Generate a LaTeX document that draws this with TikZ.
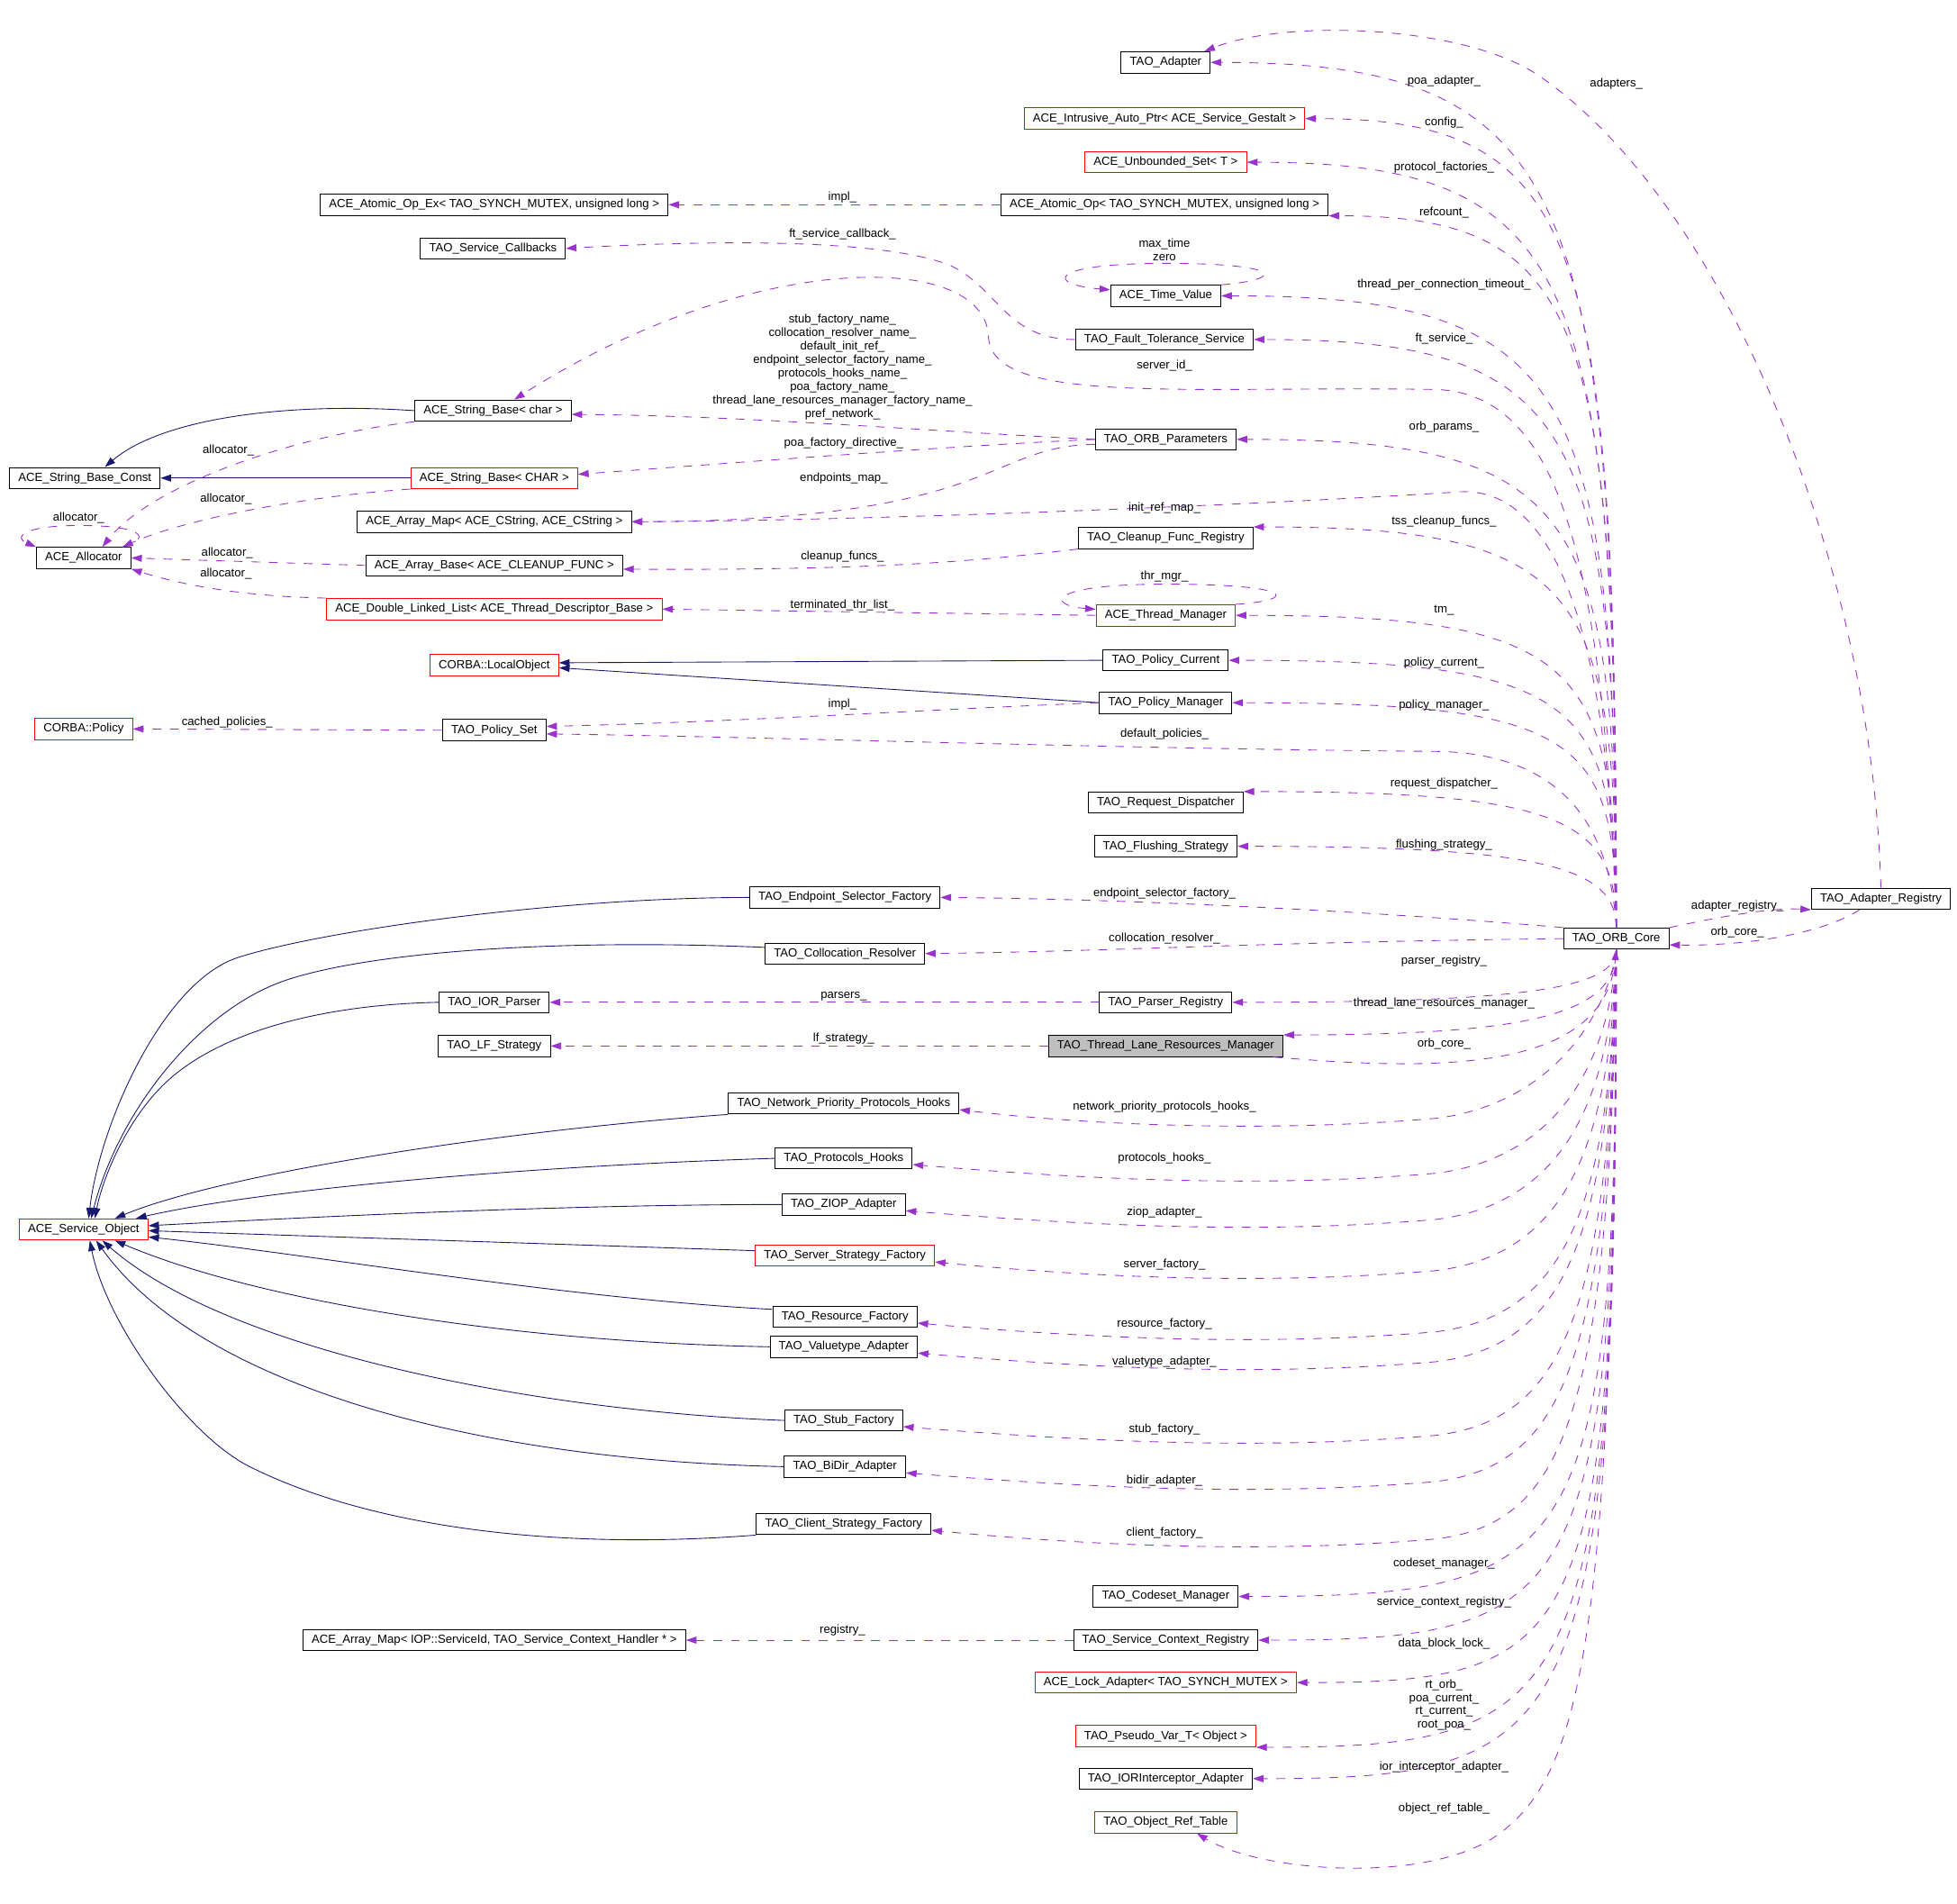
\documentclass[tikz,border=0pt]{standalone}
\usepackage{fontspec}
\setmainfont{Liberation Sans}
\usetikzlibrary{arrows.meta,calc}
\definecolor{usecol}{HTML}{9A32CD}
\definecolor{isacol}{HTML}{191970}
\definecolor{nodegray}{HTML}{BFBFBF}
\newcommand\dfont{\fontsize{13.5pt}{15.3pt}\selectfont}
\tikzset{
  cls/.style={draw=black, line width=1pt, fill=white, font=\dfont, inner xsep=0.35cm, inner ysep=0pt, minimum height=0.85cm},
  redcls/.style={cls, draw=red},
  graycls/.style={cls, fill=nodegray},
  lbl/.style={font=\dfont, inner sep=0pt, align=center},
  uses/.style={draw=usecol, line width=0.9pt, dash pattern=on 10pt off 10pt, -{Triangle[length=12pt,width=8pt]}},
  isa/.style={draw=isacol, line width=0.9pt, -{Triangle[length=12pt,width=8pt]}}
}
\begin{document}
\begin{tikzpicture}[x=0.05cm, y=-0.05cm]
\newcommand\orbedge[4]{
\draw[uses] (#1) .. controls ($(#1 |- #2)!#3!(#1)$) and ($(#2)!#4!(#1 |- #2)$) .. (#2);
}
\newcommand\orbsag[2]{
\draw[uses] (core.south) .. controls (1290,{#2-80}) and (1250,#2) .. (1150,{#2+12}) .. controls (1000,{#2+25}) and (850,{#2+15}) .. ([shift={(0,5)}]#1.east);
}
\path[use as bounding box, fill=white] (0,0) rectangle (1568,1525);
\node[cls] (adapter) at (934,50) {TAO\_Adapter};
\node[redcls] (autoptr) at (933,95) {ACE\_Intrusive\_Auto\_Ptr< ACE\_Service\_Gestalt >};
\node[redcls] (unbset) at (934,130) {ACE\_Unbounded\_Set< T >};
\node[cls] (atomicex) at (396,164) {ACE\_Atomic\_Op\_Ex< TAO\_SYNCH\_MUTEX, unsigned long >};
\node[cls] (atomic) at (933,164) {ACE\_Atomic\_Op< TAO\_SYNCH\_MUTEX, unsigned long >};
\node[cls] (svccb) at (395,199) {TAO\_Service\_Callbacks};
\node[cls] (timeval) at (934,237) {ACE\_Time\_Value};
\node[cls] (ftsvc) at (933,272) {TAO\_Fault\_Tolerance\_Service};
\node[cls] (strchar) at (395,329) {ACE\_String\_Base< char >};
\node[cls] (orbparams) at (934,352) {TAO\_ORB\_Parameters};
\node[cls] (strconst) at (68,383) {ACE\_String\_Base\_Const};
\node[redcls] (strCHAR) at (396,383) {ACE\_String\_Base< CHAR >};
\node[cls] (arraymap) at (396,418) {ACE\_Array\_Map< ACE\_CString, ACE\_CString >};
\node[cls] (cleanup) at (934,431) {TAO\_Cleanup\_Func\_Registry};
\node[cls] (allocator) at (67,447) {ACE\_Allocator};
\node[cls] (arraybase) at (396,453) {ACE\_Array\_Base< ACE\_CLEANUP\_FUNC >};
\node[redcls] (dlist) at (396,488) {ACE\_Double\_Linked\_List< ACE\_Thread\_Descriptor\_Base >};
\node[redcls] (thrmgr) at (934,493) {ACE\_Thread\_Manager};
\node[redcls] (localobj) at (396,533) {CORBA::LocalObject};
\node[cls] (polcur) at (934,529) {TAO\_Policy\_Current};
\node[cls] (polmgr) at (934,563) {TAO\_Policy\_Manager};
\node[redcls] (policy) at (67,584) {CORBA::Policy};
\node[cls] (polset) at (396,585) {TAO\_Policy\_Set};
\node[cls] (reqdisp) at (934,643) {TAO\_Request\_Dispatcher};
\node[cls] (flush) at (934,678) {TAO\_Flushing\_Strategy};
\node[cls] (epsel) at (677,719) {TAO\_Endpoint\_Selector\_Factory};
\node[cls] (adreg) at (1507,720) {TAO\_Adapter\_Registry};
\node[cls] (core) at (1295,752) {TAO\_ORB\_Core};
\node[cls] (colres) at (677,764) {TAO\_Collocation\_Resolver};
\node[cls] (iorparser) at (396,803) {TAO\_IOR\_Parser};
\node[cls] (parsreg) at (934,803) {TAO\_Parser\_Registry};
\node[cls] (lfstrat) at (396,838) {TAO\_LF\_Strategy};
\node[graycls] (tlrm) at (934,838) {TAO\_Thread\_Lane\_Resources\_Manager};
\node[cls] (nethooks) at (676,884) {TAO\_Network\_Priority\_Protocols\_Hooks};
\node[cls] (prothooks) at (676,928) {TAO\_Protocols\_Hooks};
\node[cls] (ziop) at (676,965) {TAO\_ZIOP\_Adapter};
\node[redcls] (so) at (67,985) {ACE\_Service\_Object};
\node[redcls] (srvfac) at (677,1006) {TAO\_Server\_Strategy\_Factory};
\node[cls] (resfac) at (677,1055) {TAO\_Resource\_Factory};
\node[cls] (valadapt) at (676,1079) {TAO\_Valuetype\_Adapter};
\node[cls] (stubfac) at (676,1138) {TAO\_Stub\_Factory};
\node[cls] (bidir) at (677,1175) {TAO\_BiDir\_Adapter};
\node[cls] (clifac) at (676,1221) {TAO\_Client\_Strategy\_Factory};
\node[cls] (codeset) at (934,1279) {TAO\_Codeset\_Manager};
\node[cls] (arraymapiop) at (396,1314) {ACE\_Array\_Map< IOP::ServiceId, TAO\_Service\_Context\_Handler * >};
\node[cls] (scr) at (934,1314) {TAO\_Service\_Context\_Registry};
\node[redcls] (lockad) at (934,1348) {ACE\_Lock\_Adapter< TAO\_SYNCH\_MUTEX >};
\node[redcls] (pseudovar) at (934,1391) {TAO\_Pseudo\_Var\_T< Object >};
\node[cls] (iorint) at (934,1425) {TAO\_IORInterceptor\_Adapter};
\node[redcls] (objref) at (934,1460) {TAO\_Object\_Ref\_Table};
\draw[isa] (strchar.west) .. controls (230,322) and (130,335) .. ([shift={(16,0)}]strconst.north);
\draw[isa] (strCHAR.west) -- (strconst.east);
\draw[isa] (polcur.west) -- ([shift={(0,-2)}]localobj.east);
\draw[isa] (polmgr.west) -- ([shift={(0,2)}]localobj.east);
\draw[isa] (epsel.west) .. controls (450,719) and (260,745) .. (191,767) .. controls (131,786) and (80,900) .. ([shift={(4,0)}]so.north);
\draw[isa] ([shift={(0,-5)}]colres.west) .. controls (450,752) and (300,762) .. (230,785) .. controls (160,808) and (95,890) .. ([shift={(6,0)}]so.north);
\draw[isa] (iorparser.west) .. controls (250,805) and (170,830) .. (130,870) .. controls (100,900) and (82,945) .. ([shift={(9,0)}]so.north);
\draw[isa] (nethooks.south west) .. controls (400,906) and (180,940) .. ([shift={(25,0)}]so.north);
\draw[isa] (prothooks.west) .. controls (400,935) and (200,955) .. ([shift={(-10,0)}]so.north east);
\draw[isa] (ziop.west) .. controls (450,965) and (250,975) .. ([shift={(0,-3)}]so.east);
\draw[isa] ([shift={(0,-4)}]srvfac.west) -- ([shift={(0,1)}]so.east);
\draw[isa] ([shift={(0,-6)}]resfac.west) .. controls (450,1040) and (250,1005) .. ([shift={(0,6)}]so.east);
\draw[isa] (valadapt.west) .. controls (400,1075) and (200,1040) .. ([shift={(25,0)}]so.south);
\draw[isa] (stubfac.west) .. controls (420,1130) and (180,1080) .. ([shift={(15,0)}]so.south);
\draw[isa] (bidir.west) .. controls (380,1170) and (160,1110) .. ([shift={(10,0)}]so.south);
\draw[isa] (clifac.south west) .. controls (450,1242) and (300,1225) .. (200,1175) .. controls (150,1150) and (85,1060) .. ([shift={(5,0)}]so.south);
\orbedge{core.north}{adapter.east}{0.15}{0.9}
\orbedge{core.north}{autoptr.east}{0.15}{0.9}
\orbedge{core.north}{unbset.east}{0.15}{0.9}
\orbedge{core.north}{atomic.south east}{0.15}{0.9}
\orbedge{core.north}{timeval.east}{0.15}{0.9}
\orbedge{core.north}{ftsvc.east}{0.15}{0.9}
\orbedge{core.north}{orbparams.east}{0.15}{0.9}
\orbedge{core.north}{cleanup.north east}{0.15}{0.9}
\orbedge{core.north}{thrmgr.east}{0.15}{0.9}
\orbedge{core.north}{polcur.east}{0.15}{0.9}
\orbedge{core.north}{polmgr.east}{0.15}{0.9}
\orbedge{core.north}{reqdisp.north east}{0.2}{0.85}
\orbedge{core.north}{flush.east}{0.25}{0.8}
\orbedge{core.south}{parsreg.east}{0.25}{0.75}
\orbedge{core.south}{tlrm.north east}{0.25}{0.75}
\orbedge{core.south}{codeset.east}{0.05}{0.9}
\orbedge{core.south}{scr.east}{0.05}{0.9}
\orbedge{core.south}{lockad.east}{0.05}{0.9}
\orbedge{core.south}{pseudovar.south east}{0.05}{0.9}
\orbedge{core.south}{iorint.east}{0.05}{0.9}
\orbsag{nethooks}{884}
\orbsag{prothooks}{928}
\orbsag{ziop}{965}
\orbsag{srvfac}{1006}
\orbsag{resfac}{1055}
\orbsag{valadapt}{1079}
\orbsag{stubfac}{1138}
\orbsag{bidir}{1175}
\orbsag{clifac}{1221}
\draw[uses] (core.south) .. controls (1292,1300) and (1270,1420) .. (1200,1470) .. controls (1144,1510) and (1010,1500) .. ([shift={(25,0)}]objref.south);
\draw[uses] ([shift={(-8,0)}]tlrm.south east) .. controls (1150,858) and (1285,860) .. (core.south);
\draw[uses] (core.north) .. controls (1285,450) and (1250,315) .. (1150,312) .. controls (950,309) and (795,325) .. (792,270) .. controls (790,200) and (600,200) .. ([shift={(17,0)}]strchar.north);
\draw[uses] (core.north) .. controls (1290,520) and (1250,390) .. (1170,394) .. controls (1000,405) and (700,417) .. (arraymap.east);
\draw[uses] (core.north) .. controls (1290,660) and (1250,603) .. (1150,602) .. controls (900,600) and (600,590) .. ([shift={(0,3)}]polset.east);
\draw[uses] (core.north west) .. controls (1100,730) and (900,720) .. (epsel.east);
\draw[uses] (core.west) .. controls (1000,755) and (900,762) .. (colres.east);
\draw[uses] (core.north east) .. controls (1380,734) and (1420,727) .. (adreg.south west);
\draw[uses] ([shift={(-17,0)}]adreg.south) .. controls (1460,748) and (1400,758) .. ([shift={(0,5)}]core.east);
\draw[uses] (adreg.north) .. controls (1500,450) and (1380,160) .. (1232,60) .. controls (1172,20) and (1030,15) .. ([shift={(-5,0)}]adapter.north east);
\draw[uses] (atomic.west) -- (atomicex.east);
\draw[uses] (ftsvc.west) .. controls (805,272) and (800,230) .. (760,212) .. controls (700,190) and (560,193) .. (svccb.east);
\draw[uses] (timeval.north east) .. controls (1030,224) and (1030,211) .. (934,211) .. controls (838,211) and (838,228) .. ([shift={(0,4)}]timeval.north west);
\draw[uses] (thrmgr.north east) .. controls (1040,481) and (1040,468) .. (934,468) .. controls (838,468) and (838,485) .. ([shift={(0,4)}]thrmgr.north west);
\draw[uses] ([shift={(-7,0)}]allocator.north east) .. controls (125,430) and (110,421) .. (64,421) .. controls (20,421) and (10,430) .. (allocator.north west);
\draw[uses] (orbparams.west) .. controls (750,346) and (600,333) .. ([shift={(0,3)}]strchar.east);
\draw[uses] (orbparams.west) .. controls (750,358) and (600,370) .. ([shift={(0,-3)}]strCHAR.east);
\draw[uses] ([shift={(0,4)}]orbparams.west) .. controls (790,357) and (800,417) .. (arraymap.east);
\draw[uses] (cleanup.south west) .. controls (780,450) and (700,457) .. ([shift={(0,3)}]arraybase.east);
\draw[uses] (thrmgr.west) -- (dlist.east);
\draw[uses] (polmgr.west) .. controls (750,568) and (600,578) .. ([shift={(0,-3)}]polset.east);
\draw[uses] (polset.west) -- (policy.east);
\draw[uses] (strchar.south west) .. controls (230,350) and (120,390) .. ([shift={(15,0)}]allocator.north);
\draw[uses] (strCHAR.south west) .. controls (250,397) and (150,415) .. ([shift={(-7,0)}]allocator.north east);
\draw[uses] (arraybase.west) -- (allocator.east);
\draw[uses] (dlist.north west) .. controls (200,478) and (150,470) .. (allocator.south east);
\draw[uses] (parsreg.west) -- (iorparser.east);
\draw[uses] (tlrm.west) -- (lfstrat.east);
\draw[uses] (scr.west) -- (arraymapiop.east);
\node[lbl] (l-poaad) at (1157,65) {poa\_adapter\_};
\node[lbl] (l-adapters) at (1295,67) {adapters\_};
\node[lbl] (l-config) at (1157,98) {config\_};
\node[lbl] (l-protfac) at (1157,134) {protocol\_factories\_};
\node[lbl] (l-impl) at (675,158) {impl\_};
\node[lbl] (l-refcount) at (1157,170) {refcount\_};
\node[lbl] (l-ftcb) at (675,188) {ft\_service\_callback\_};
\node[lbl] (l-maxtime) at (933,200) {max\_time\\zero};
\node[lbl] (l-tpct) at (1157,228) {thread\_per\_connection\_timeout\_};
\node[lbl] (l-ftsvc) at (1157,271) {ft\_service\_};
\node[lbl] (l-names) at (675,294) {stub\_factory\_name\_\\collocation\_resolver\_name\_\\default\_init\_ref\_\\endpoint\_selector\_factory\_name\_\\protocols\_hooks\_name\_\\poa\_factory\_name\_\\thread\_lane\_resources\_manager\_factory\_name\_\\pref\_network\_};
\node[lbl] (l-serverid) at (933,293) {server\_id\_};
\node[lbl] (l-orbparams) at (1157,342) {orb\_params\_};
\node[lbl] (l-poadir) at (676,355) {poa\_factory\_directive\_};
\node[lbl] (l-alloc1) at (183,361) {allocator\_};
\node[lbl] (l-epmap) at (676,383) {endpoints\_map\_};
\node[lbl] (l-alloc2) at (181,400) {allocator\_};
\node[lbl] (l-initref) at (933,407) {init\_ref\_map\_};
\node[lbl] (l-alloc3) at (63,415) {allocator\_};
\node[lbl] (l-tss) at (1157,418) {tss\_cleanup\_funcs\_};
\node[lbl] (l-alloc4) at (182,443) {allocator\_};
\node[lbl] (l-cleanup) at (675,446) {cleanup\_funcs\_};
\node[lbl] (l-alloc5) at (181,460) {allocator\_};
\node[lbl] (l-thrmgr) at (933,462) {thr\_mgr\_};
\node[lbl] (l-term) at (675,485) {terminated\_thr\_list\_};
\node[lbl] (l-tm) at (1157,489) {tm\_};
\node[lbl] (l-polcur) at (1157,531) {policy\_current\_};
\node[lbl] (l-impl2) at (675,564) {impl\_};
\node[lbl] (l-polmgr) at (1157,565) {policy\_manager\_};
\node[lbl] (l-cached) at (182,579) {cached\_policies\_};
\node[lbl] (l-defpol) at (933,588) {default\_policies\_};
\node[lbl] (l-reqdisp) at (1157,628) {request\_dispatcher\_};
\node[lbl] (l-flush) at (1157,677) {flushing\_strategy\_};
\node[lbl] (l-epsel) at (933,716) {endpoint\_selector\_factory\_};
\node[lbl] (l-adreg) at (1392,726) {adapter\_registry\_};
\node[lbl] (l-orbcore1) at (1392,747) {orb\_core\_};
\node[lbl] (l-colres) at (933,752) {collocation\_resolver\_};
\node[lbl] (l-parsreg) at (1157,770) {parser\_registry\_};
\node[lbl] (l-parsers) at (676,798) {parsers\_};
\node[lbl] (l-tlrm) at (1157,804) {thread\_lane\_resources\_manager\_};
\node[lbl] (l-lf) at (676,832) {lf\_strategy\_};
\node[lbl] (l-orbcore2) at (1157,836) {orb\_core\_};
\node[lbl] (l-nethooks) at (933,887) {network\_priority\_protocols\_hooks\_};
\node[lbl] (l-prothooks) at (933,928) {protocols\_hooks\_};
\node[lbl] (l-ziop) at (933,971) {ziop\_adapter\_};
\node[lbl] (l-srvfac) at (933,1013) {server\_factory\_};
\node[lbl] (l-resfac) at (933,1061) {resource\_factory\_};
\node[lbl] (l-valadapt) at (933,1091) {valuetype\_adapter\_};
\node[lbl] (l-stubfac) at (933,1145) {stub\_factory\_};
\node[lbl] (l-bidir) at (933,1186) {bidir\_adapter\_};
\node[lbl] (l-clifac) at (933,1228) {client\_factory\_};
\node[lbl] (l-codeset) at (1157,1253) {codeset\_manager\_};
\node[lbl] (l-scr) at (1157,1284) {service\_context\_registry\_};
\node[lbl] (l-registry) at (675,1306) {registry\_};
\node[lbl] (l-dblock) at (1157,1317) {data\_block\_lock\_};
\node[lbl] (l-pseudo) at (1157,1366) {rt\_orb\_\\poa\_current\_\\rt\_current\_\\root\_poa\_};
\node[lbl] (l-iorint) at (1157,1416) {ior\_interceptor\_adapter\_};
\node[lbl] (l-objref) at (1157,1449) {object\_ref\_table\_};
\end{tikzpicture}
\end{document}
